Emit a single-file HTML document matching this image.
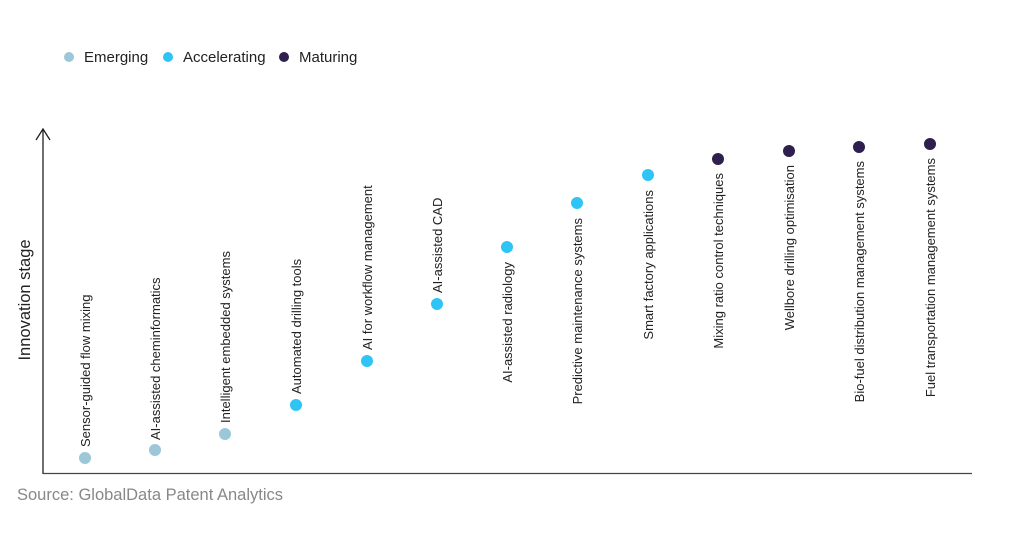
<!DOCTYPE html>
<html><head><meta charset="utf-8"><style>
html,body{margin:0;padding:0;background:#fff;}
svg{display:block;font-family:"Liberation Sans",Arial,sans-serif;}
</style></head><body>
<svg width="1024" height="538" viewBox="0 0 1024 538" xmlns="http://www.w3.org/2000/svg">
<g font-size="15" fill="#222">
<circle cx="69" cy="57" r="5" fill="#9cc7d9"/><text x="84" y="62">Emerging</text>
<circle cx="168" cy="57" r="5" fill="#2ec4f5"/><text x="183" y="62">Accelerating</text>
<circle cx="284" cy="57" r="5" fill="#2e1f4e"/><text x="299" y="62">Maturing</text>
</g>
<line x1="43" y1="129" x2="43" y2="474" stroke="#222" stroke-width="1.3"/>
<line x1="43" y1="473.5" x2="972" y2="473.5" stroke="#444" stroke-width="1.3"/>
<polyline points="36,140 43,129 50,140" fill="none" stroke="#222" stroke-width="1.3"/>
<text transform="translate(30,300) rotate(-90)" text-anchor="middle" font-size="16.5" fill="#222">Innovation stage</text>
<text x="17" y="500" font-size="16.5" fill="#888">Source: GlobalData Patent Analytics</text>
<g font-size="13" fill="#222">
<circle cx="85" cy="458" r="6" fill="#9cc7d9"/><text transform="translate(90,447) rotate(-90)">Sensor-guided flow mixing</text>
<circle cx="155" cy="450" r="6" fill="#9cc7d9"/><text transform="translate(160,440) rotate(-90)">AI-assisted cheminformatics</text>
<circle cx="225" cy="434" r="6" fill="#9cc7d9"/><text transform="translate(230,423) rotate(-90)">Intelligent embedded systems</text>
<circle cx="296" cy="405" r="6" fill="#2ec4f5"/><text transform="translate(301,394) rotate(-90)">Automated drilling tools</text>
<circle cx="367" cy="361" r="6" fill="#2ec4f5"/><text transform="translate(372,350) rotate(-90)">AI for workflow management</text>
<circle cx="437" cy="304" r="6" fill="#2ec4f5"/><text transform="translate(442,293) rotate(-90)">AI-assisted CAD</text>
<circle cx="507" cy="247" r="6" fill="#2ec4f5"/><text transform="translate(512,262) rotate(-90)" text-anchor="end">AI-assisted radiology</text>
<circle cx="577" cy="203" r="6" fill="#2ec4f5"/><text transform="translate(582,218) rotate(-90)" text-anchor="end">Predictive maintenance systems</text>
<circle cx="648" cy="175" r="6" fill="#2ec4f5"/><text transform="translate(653,190) rotate(-90)" text-anchor="end">Smart factory applications</text>
<circle cx="718" cy="159" r="6" fill="#2e1f4e"/><text transform="translate(723,173) rotate(-90)" text-anchor="end">Mixing ratio control techniques</text>
<circle cx="789" cy="151" r="6" fill="#2e1f4e"/><text transform="translate(794,165) rotate(-90)" text-anchor="end">Wellbore drilling optimisation</text>
<circle cx="859" cy="147" r="6" fill="#2e1f4e"/><text transform="translate(864,161) rotate(-90)" text-anchor="end">Bio-fuel distribution management systems</text>
<circle cx="930" cy="144" r="6" fill="#2e1f4e"/><text transform="translate(935,158) rotate(-90)" text-anchor="end">Fuel transportation management systems</text>
</g>
</svg>
</body></html>
